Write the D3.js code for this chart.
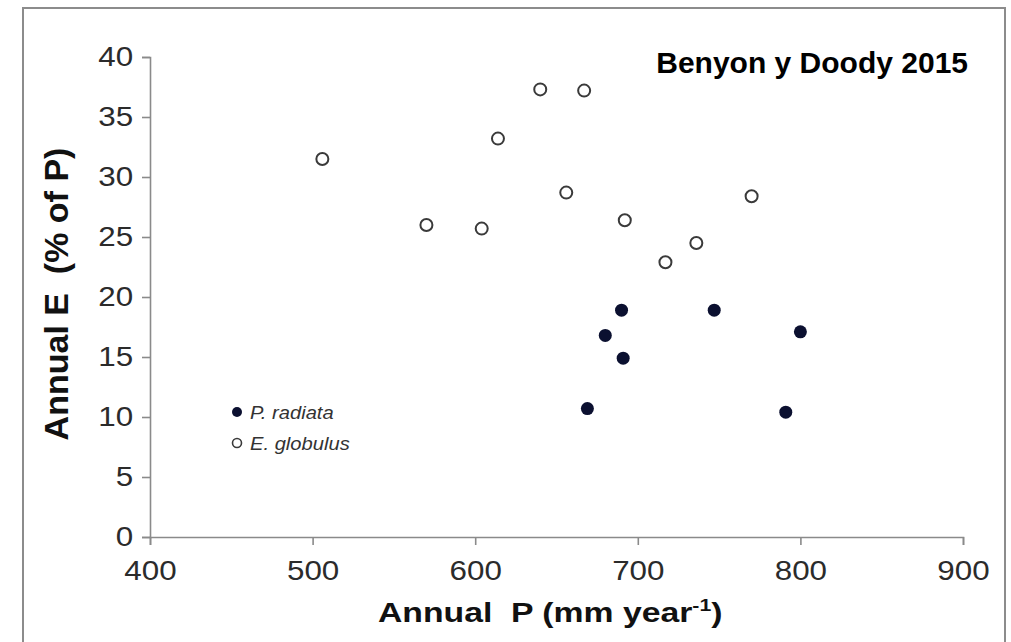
<!DOCTYPE html>
<html>
<head>
<meta charset="utf-8">
<script src="https://cdn.jsdelivr.net/npm/d3@7"></script>
<style>
    body { margin: 0; background: #fff; }
    svg { display: block; font-family: "Liberation Sans", Arial, sans-serif; }
</style>
</head>
<body>
<svg id="chart" width="1011" height="642"></svg>
<script>
// P. radiata (filled)
var radiataP = [669, 680, 690, 691, 747, 791, 800];
var radiataE = [10.7, 16.8, 18.9, 14.9, 18.9, 10.4, 17.1];

// E. globulus (open)
var globulusP = [506, 570, 604, 614, 640, 656, 667, 692, 717, 736, 770];
var globulusE = [31.5, 26.0, 25.7, 33.2, 37.3, 28.7, 37.2, 26.4, 22.9, 24.5, 28.4];

var xTicks = [400, 500, 600, 700, 800, 900];
var yTicks = [0, 5, 10, 15, 20, 25, 30, 35, 40];
var seriesNames = ["P. radiata", "E. globulus"];
var chartNote = "Benyon y Doody 2015";

var svg = d3.select("#chart");

// frame round the whole figure
svg.append("rect")
    .attr("x", 23).attr("y", 8)
    .attr("width", 982).attr("height", 660)
    .attr("fill", "none")
    .attr("stroke", "#8c8c8c")
    .attr("stroke-width", 2);

var x = d3.scaleLinear().domain([400, 900]).range([150, 963]);
var y = d3.scaleLinear().domain([0, 40]).range([537, 57]);

var xAxis = svg.append("g")
    .attr("transform", "translate(0," + y(0) + ")")
    .call(d3.axisBottom(x).tickValues(xTicks).tickSize(8).tickPadding(15).tickFormat(d3.format("d")));

var yAxis = svg.append("g")
    .attr("transform", "translate(" + x(400) + ",0)")
    .call(d3.axisLeft(y).tickValues(yTicks).tickSize(8).tickPadding(7).tickFormat(d3.format("d")));

[xAxis, yAxis].forEach(function (g) {
    g.select(".domain").attr("stroke", "#8a8a8a").attr("stroke-width", 1.6);
    g.selectAll(".tick line").attr("stroke", "#8a8a8a").attr("stroke-width", 1.6);
    g.selectAll(".tick text")
        .attr("fill", "#2b2b2b")
        .attr("font-size", 28)
        .attr("font-family", "'Liberation Sans', Arial, sans-serif")
        .attr("transform", "scale(1.12,1)");
});

// points
svg.append("g").selectAll("circle")
    .data(globulusP)
    .join("circle")
    .attr("cx", function (d) { return x(d); })
    .attr("cy", function (d, i) { return y(globulusE[i]); })
    .attr("r", 6)
    .attr("fill", "#fff")
    .attr("stroke", "#3a3a3a")
    .attr("stroke-width", 2);

svg.append("g").selectAll("circle")
    .data(radiataP)
    .join("circle")
    .attr("cx", function (d) { return x(d); })
    .attr("cy", function (d, i) { return y(radiataE[i]); })
    .attr("r", 6.5)
    .attr("fill", "#0b1030");

// legend
var legend = svg.append("g");
legend.append("circle")
    .attr("cx", 237).attr("cy", 412).attr("r", 5)
    .attr("fill", "#0b1030");
legend.append("circle")
    .attr("cx", 237).attr("cy", 443).attr("r", 4.5)
    .attr("fill", "#fff").attr("stroke", "#3a3a3a").attr("stroke-width", 1.6);
legend.selectAll("text")
    .data(seriesNames)
    .join("text")
    .attr("transform", function (d, i) { return "translate(250," + (419 + i * 31) + ") scale(1.12,1)"; })
    .attr("font-size", 18)
    .attr("font-style", "italic")
    .attr("fill", "#333")
    .text(function (d) { return d; });

// axis titles
var xTitle = svg.append("text")
    .attr("transform", "translate(378,622) scale(1.25,1)")
    .attr("font-size", 27)
    .attr("font-weight", "bold")
    .attr("fill", "#111");
xTitle.append("tspan").text("Annual\u00a0\u00a0P (mm year");
xTitle.append("tspan").attr("font-size", 17).attr("dy", -11).text("-1");
xTitle.append("tspan").attr("dy", 11).text(")");

svg.append("text")
    .attr("transform", "translate(68,294) rotate(-90)")
    .attr("text-anchor", "middle")
    .attr("font-size", 34)
    .attr("font-weight", "bold")
    .attr("fill", "#111")
    .text("Annual E\u00a0\u00a0(% of P)");

svg.append("text")
    .attr("x", 968).attr("y", 73)
    .attr("text-anchor", "end")
    .attr("font-size", 30)
    .attr("font-weight", "bold")
    .attr("fill", "#000")
    .text(chartNote);
</script>
</body>
</html>
